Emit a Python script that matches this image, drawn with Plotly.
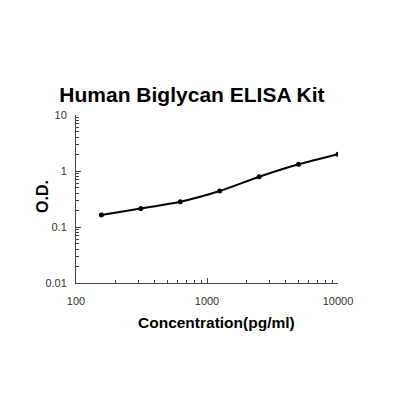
import plotly.graph_objects as go

concentration = [156.25, 312.5, 625, 1250, 2500, 5000, 10000]
od_values = [0.164, 0.214, 0.283, 0.44, 0.79, 1.32, 2.0]

x_tick_vals = [100, 1000, 10000]
x_tick_text = ["100", "1000", "10000"]
y_tick_vals = [0.01, 0.1, 1, 10]
y_tick_text = ["0.01", "0.1", "1", "10"]

x_minor = [m * 10 ** e for e in (2, 3) for m in range(2, 10)]
y_minor = [m * 10 ** e for e in (-2, -1, 0) for m in range(2, 10)]

FONT = "Liberation Sans, Arial, sans-serif"

fig = go.Figure()
fig.add_trace(go.Scatter(
    x=concentration, y=od_values, mode="lines+markers",
    line=dict(color="black", width=2, shape="spline", smoothing=0.7),
    marker=dict(color="black", size=5),
    showlegend=False,
))

axis_font = dict(family=FONT, size=11, color="#333333")

fig.update_layout(
    width=420, height=420,
    margin=dict(l=68, r=90, t=107, b=145),
    paper_bgcolor="white", plot_bgcolor="white",
    title=dict(text="<b>Human Biglycan ELISA Kit</b>", x=184/420, xanchor="center",
               y=1 - 87/420, yanchor="middle",
               font=dict(family=FONT, size=21, color="black")),
    xaxis=dict(type="log", range=[2, 4], showgrid=False, zeroline=False,
               showline=True, linecolor="#444", linewidth=1,
               tickmode="array", tickvals=x_tick_vals, ticktext=x_tick_text,
               ticks="inside", ticklen=5, tickcolor="#444", tickfont=axis_font,
               ticklabelstandoff=8,
               minor=dict(tickmode="array", tickvals=x_minor, ticks="inside", ticklen=3, tickcolor="#444")),
    yaxis=dict(type="log", range=[-2, 1], showgrid=False, zeroline=False,
               showline=True, linecolor="#444", linewidth=1,
               tickmode="array", tickvals=y_tick_vals, ticktext=y_tick_text,
               ticks="inside", ticklen=5, tickcolor="#444", tickfont=axis_font,
               ticklabelstandoff=6,
               minor=dict(tickmode="array", tickvals=y_minor, ticks="inside", ticklen=3, tickcolor="#444")),
    annotations=[
        dict(text="<b>Concentration(pg/ml)</b>", xref="paper", yref="paper",
             x=(208 - 68) / 262, y=-(314 - 275) / 168, xanchor="center", yanchor="middle",
             showarrow=False, font=dict(family=FONT, size=15.5, color="black")),
        dict(text="<b>O.D.</b>", xref="paper", yref="paper",
             x=-(68 - 34) / 262, y=(275 - 189) / 168, xanchor="center", yanchor="middle",
             textangle=-90, showarrow=False, font=dict(family=FONT, size=16, color="black")),
    ],
)

fig.write_html("out.html")
